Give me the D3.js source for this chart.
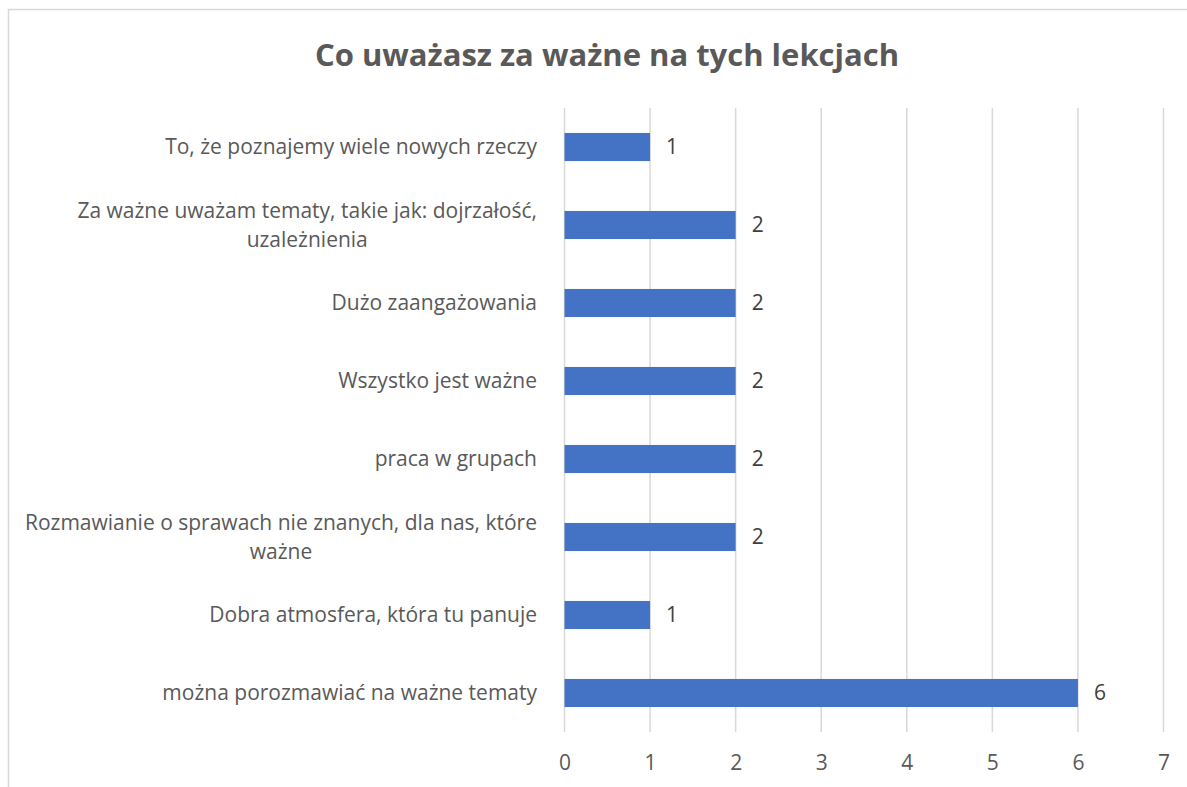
<!DOCTYPE html>
<html>
<head>
<meta charset="utf-8">
<script src="https://cdn.jsdelivr.net/npm/d3@7"></script>
<style>
  body { margin: 0; background: #fff; }
  svg text { font-family: "Open Sans", Lato, sans-serif; }
</style>
</head>
<body>
<div id="chart-area"></div>
<script>
// data
var categories = [
    "To, że poznajemy wiele nowych rzeczy",
    "Za ważne uważam tematy, takie jak: dojrzałość, uzależnienia",
    "Dużo zaangażowania",
    "Wszystko jest ważne",
    "praca w grupach",
    "Rozmawianie o sprawach nie znanych, dla nas, które ważne",
    "Dobra atmosfera, która tu panuje",
    "można porozmawiać na ważne tematy"
];
var values = [1, 2, 2, 2, 2, 2, 1, 6];
var xTicks = [0, 1, 2, 3, 4, 5, 6, 7];
var title = "Co uważasz za ważne na tych lekcjach";

var W = 1187, H = 787;
var plot = { left: 564.5, right: 1163.5, top: 108, bottom: 732 };
var fs = 21;

var svg = d3.select("#chart-area").append("svg")
    .attr("width", W)
    .attr("height", H);

// chart border
svg.append("rect")
    .attr("x", 8.5)
    .attr("y", 9.5)
    .attr("width", W + 20)
    .attr("height", H + 20)
    .attr("fill", "none")
    .attr("stroke", "#d9d9d9")
    .attr("stroke-width", 1.5);

// Title
svg.append("text")
    .attr("x", 607)
    .attr("y", 66)
    .attr("text-anchor", "middle")
    .attr("font-size", "31px")
    .attr("font-weight", "bold")
    .style("fill", "#595959")
    .text(title);

var x = d3.scaleLinear().domain([0, 7]).range([plot.left, plot.right]);
var y = d3.scaleBand()
    .domain(categories)
    .range([plot.top, plot.bottom])
    .paddingInner(0.64)
    .paddingOuter(0.32);

// gridlines
svg.append("g")
    .attr("class", "grid")
    .selectAll("line")
    .data(xTicks)
    .enter().append("line")
    .attr("x1", (d) => x(d))
    .attr("x2", (d) => x(d))
    .attr("y1", plot.top)
    .attr("y2", plot.bottom)
    .attr("stroke", "#d9d9d9")
    .attr("stroke-width", 1.5);

// x axis labels
var bottomAxis = d3.axisBottom(x).tickValues(xTicks)
    .tickFormat(d3.format("d"))
    .tickSize(0).tickPadding(0);
var xAxis = svg.append("g")
    .attr("class", "x axis")
    .attr("transform", "translate(0, " + 770 + ")")
    .call(bottomAxis);
xAxis.select(".domain").remove();
xAxis.selectAll("text")
    .attr("dy", 0)
    .attr("y", 0)
    .attr("font-size", fs + "px")
    .attr("font-family", "'Open Sans', sans-serif")
    .style("fill", "#595959");

// bars
svg.append("g")
    .selectAll("rect")
    .data(values)
    .enter().append("rect")
    .attr("x", x(0))
    .attr("y", (d, i) => y(categories[i]))
    .attr("width", (d) => x(d) - x(0))
    .attr("height", y.bandwidth())
    .attr("fill", "#4472c4");

// value labels
svg.append("g")
    .selectAll("text")
    .data(values)
    .enter().append("text")
    .attr("x", (d) => x(d) + 16)
    .attr("y", (d, i) => y(categories[i]) + y.bandwidth() / 2)
    .attr("dy", "0.35em")
    .attr("font-size", fs + "px")
    .style("fill", "#404040")
    .text((d) => d);

// category labels (wrapped, lines centred on each other, block right-aligned)
var maxLabelWidth = 530;
var labels = svg.append("g").attr("class", "y labels");
categories.forEach((cat, i) => {
    var g = labels.append("g");
    var words = cat.split(" ");
    var lines = [];
    var line = [];
    var probe = g.append("text").attr("font-size", fs + "px");
    words.forEach((w) => {
        line.push(w);
        probe.text(line.join(" "));
        if (probe.node().getComputedTextLength() > maxLabelWidth && line.length > 1) {
            line.pop();
            lines.push(line.join(" "));
            line = [w];
        }
    });
    lines.push(line.join(" "));
    probe.remove();

    var widths = lines.map((l) => {
        var t = g.append("text").attr("font-size", fs + "px").text(l);
        var wdt = t.node().getComputedTextLength();
        t.remove();
        return wdt;
    });
    var blockW = d3.max(widths);
    var cx = 537 - blockW / 2;
    var lh = 29;
    var cy = y(cat) + y.bandwidth() / 2 - (lines.length - 1) * lh / 2;
    lines.forEach((l, j) => {
        g.append("text")
            .attr("x", cx)
            .attr("y", cy + j * lh)
            .attr("dy", "0.35em")
            .attr("text-anchor", "middle")
            .attr("font-size", fs + "px")
            .style("fill", "#595959")
            .text(l);
    });
});
</script>
</body>
</html>
